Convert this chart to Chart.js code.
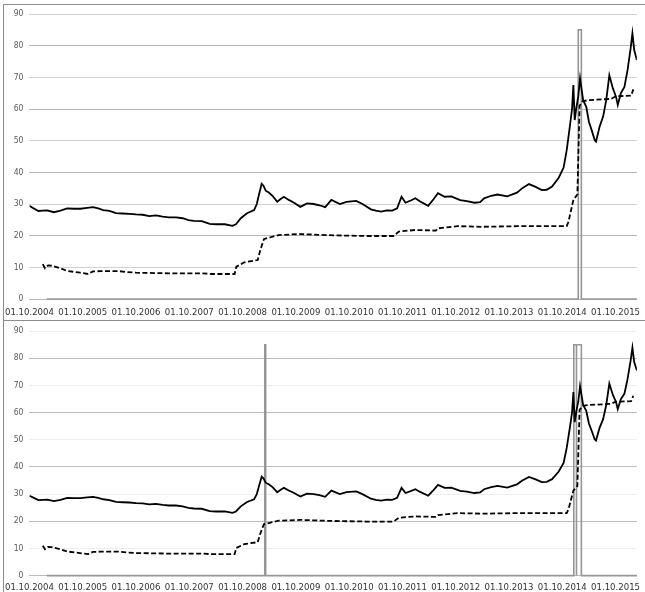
<!DOCTYPE html>
<html>
<head>
<meta charset="utf-8">
<script src="https://cdn.jsdelivr.net/npm/chart.js@4.4.1/dist/chart.umd.min.js"></script>
<style>
  body { margin: 0; background: #fff; width: 645px; height: 592px; overflow: hidden; position: relative; }
  .frame { position: absolute; left: 3px; width: 660px; border-left: 1px solid #8c8c8c; border-top: 1px solid #8c8c8c; }
  #frameTop { top: 4px; height: 316px; }
  #frameBottom { top: 320px; height: 280px; }
  .box { position: absolute; left: 0; }
</style>
</head>
<body>
<div class="frame" id="frameTop"></div>
<div class="frame" id="frameBottom"></div>
<div class="box" style="top:0"><canvas id="chartTop" width="645" height="319"></canvas></div>
<div class="box" style="top:320px"><canvas id="chartBottom" width="645" height="272"></canvas></div>
<script>
// x positions are months counted from 01.10.2004
const tickLabels = ['01.10.2004', '01.10.2005', '01.10.2006', '01.10.2007', '01.10.2008', '01.10.2009',
  '01.10.2010', '01.10.2011', '01.10.2012', '01.10.2013', '01.10.2014', '01.10.2015'];
const yTicks = [0, 10, 20, 30, 40, 50, 60, 70, 80, 90];

const priceMonths = [0, 1, 2, 3, 4, 5.5, 7, 8.5, 10, 11.5, 13, 14.3, 15.5, 16.6, 18, 19.5, 21, 22.5, 24, 25.5,
  27, 28.5, 30, 31.4, 33, 34.5, 35.8, 37, 38.8, 40.6, 42, 44, 45.7, 46.5, 47.6, 49, 50.6, 51.2, 51.7, 52.3,
  52.7, 53.2, 53.9, 54.8, 55.8, 56.5, 57.3, 58.4, 59.5, 61, 62.5, 64, 65.3, 66.6, 68, 69.9, 71.4, 73.6, 75, 76.9,
  78, 79.2, 80.5, 81.7, 82.8, 83.8, 84.7, 86, 86.9, 88, 89.8, 91, 92, 93.5, 95, 97, 98.5, 100.2, 101.5, 102.4,
  104, 105.4, 107.6, 109.8, 111, 112.5, 114, 115.4, 116.5, 117.7, 119.2, 120.3, 121, 121.7, 122.2, 122.5, 122.8, 123.2,
  123.6, 124, 124.7, 125.4, 126, 126.6, 127.3, 127.6, 128.4, 129.2, 129.9, 130.6, 131.4, 132.1, 132.5, 133.2,
  134, 134.7, 135.4, 135.8, 136.2, 136.8];
const priceValues = [29.4, 28.6, 27.8, 27.9, 28.0, 27.4, 27.9, 28.6, 28.5, 28.5, 28.8, 29.0, 28.6, 28.1, 27.8, 27.1, 27.0, 26.9, 26.7, 26.6,
  26.2, 26.4, 26.0, 25.8, 25.8, 25.5, 24.9, 24.7, 24.6, 23.7, 23.6, 23.6, 23.1, 23.6, 25.5, 27.1, 28.1, 30.0, 33.0, 36.4,
  35.8, 34.2, 33.6, 32.5, 30.7, 31.5, 32.3, 31.3, 30.5, 29.1, 30.2, 30.0, 29.6, 29.0, 31.3, 30.0, 30.7, 31.0, 30.0, 28.3,
  27.9, 27.6, 28.0, 27.9, 28.6, 32.3, 30.4, 31.2, 31.8, 30.8, 29.4, 31.5, 33.4, 32.3, 32.4, 31.2, 30.9, 30.4, 30.6, 31.8,
  32.6, 33.0, 32.4, 33.6, 35.0, 36.3, 35.4, 34.4, 34.5, 35.5, 38.3, 41.5, 47.0, 54.4, 60.0, 67.6, 56.5, 60.7,
  64.0, 69.7, 62.8, 60.7, 56.0, 53.4, 50.2, 49.7, 54.4, 57.6, 62.8, 70.7, 66.5, 63.9, 61.3, 65.0,
  67.0, 72.3, 79.2, 83.9, 78.6, 75.5];

const lowerMonths = [3.0, 3.5, 4.2, 5.0, 7.0, 8.4, 11.4, 13.2, 14.3, 16, 20.2, 22, 24, 28, 31.4, 38.8, 41, 46.2, 46.6, 48.4,
  51.4, 52, 52.8, 54.3, 56.1, 61, 68.4, 75.8, 82, 83.2, 86.9, 91.5, 92, 96.4, 102, 110, 121, 121.4, 122.5, 123.4,
  123.9, 124.6, 126, 131, 132, 135.5, 136];
const lowerValues = [11.0, 9.7, 10.6, 10.5, 9.7, 8.9, 8.3, 7.9, 8.7, 8.8, 8.8, 8.5, 8.3, 8.2, 8.1, 8.1, 7.9, 7.9, 10.2, 11.6,
  12.3, 15.5, 18.9, 19.5, 20.2, 20.5, 20.1, 19.9, 19.9, 21.3, 21.8, 21.6, 22.3, 23.0, 22.8, 23.0, 23.0, 24.4, 31.3, 33.0,
  61.0, 62.5, 62.8, 63.2, 64.0, 64.2, 66.2];

// marker series (0 / 85), drawn as a stepped line
const markTopMonths = [3.9, 123.6, 124.3, 136.8];
const markTopValues = [0, 85, 0, 0];
const markBottomMonths = [3.9, 53.0, 53.2, 122.6, 123.2, 123.2, 124.3, 136.8];
const markBottomValues = [0, 85, 0, 85, 0, 85, 0, 0];

const labelFont = "'Liberation Sans Narrow', 'DejaVu Sans Condensed', 'Liberation Sans', sans-serif";

function pts(xs, ys) {
  return xs.map((x, i) => ({ x: x, y: ys[i] }));
}

function makeChart(id, markMonths, markValues, padTop, axisH, tickLen, gridColors) {
  return new Chart(document.getElementById(id), {
    type: 'line',
    data: {
      datasets: [
        { data: pts(priceMonths, priceValues), borderColor: '#000', borderWidth: 1.8, pointRadius: 0, tension: 0 },
        { data: pts(lowerMonths, lowerValues), borderColor: '#000', borderWidth: 1.8, borderDash: [5, 2.5], pointRadius: 0 },
        { data: pts(markMonths, markValues), borderColor: '#969696', borderWidth: 1.6, stepped: 'before', pointRadius: 0, clip: false }
      ]
    },
    options: {
      responsive: false,
      animation: false,
      layout: { padding: { top: padTop, right: 3.5, left: 0, bottom: 0 } },
      plugins: { legend: { display: false }, tooltip: { enabled: false } },
      scales: {
        x: {
          type: 'linear', min: 0, max: 136.8,
          grid: { display: false, drawTicks: true, tickLength: tickLen },
          border: { display: false },
          afterBuildTicks: s => { s.ticks = tickLabels.map((t, i) => ({ value: i * 12 })); },
          afterFit: s => { s.height = axisH; },
          ticks: {
            autoSkip: false, maxRotation: 0, padding: 5, color: '#333',
            font: { family: labelFont, size: 9.5 },
            callback: (v, i) => tickLabels[i]
          }
        },
        y: {
          min: 0, max: 90,
          afterBuildTicks: s => { s.ticks = yTicks.map(v => ({ value: v })); },
          afterFit: s => { s.width = 25.5; },
          grid: { drawTicks: false, color: c => (c.tick.value % 20 === 0 ? gridColors[0] : gridColors[1]) },
          border: { display: false },
          ticks: { padding: 6, color: '#595959', font: { family: labelFont, size: 8.5 } }
        }
      }
    }
  });
}

makeChart('chartTop', markTopMonths, markTopValues, 14, 20, 3, ['#b8b8b8', '#d2d2d2']);
makeChart('chartBottom', markBottomMonths, markBottomValues, 8.6, 16.4, 1.5, ['#bdbdbd', '#ededed']);
</script>
</body>
</html>
